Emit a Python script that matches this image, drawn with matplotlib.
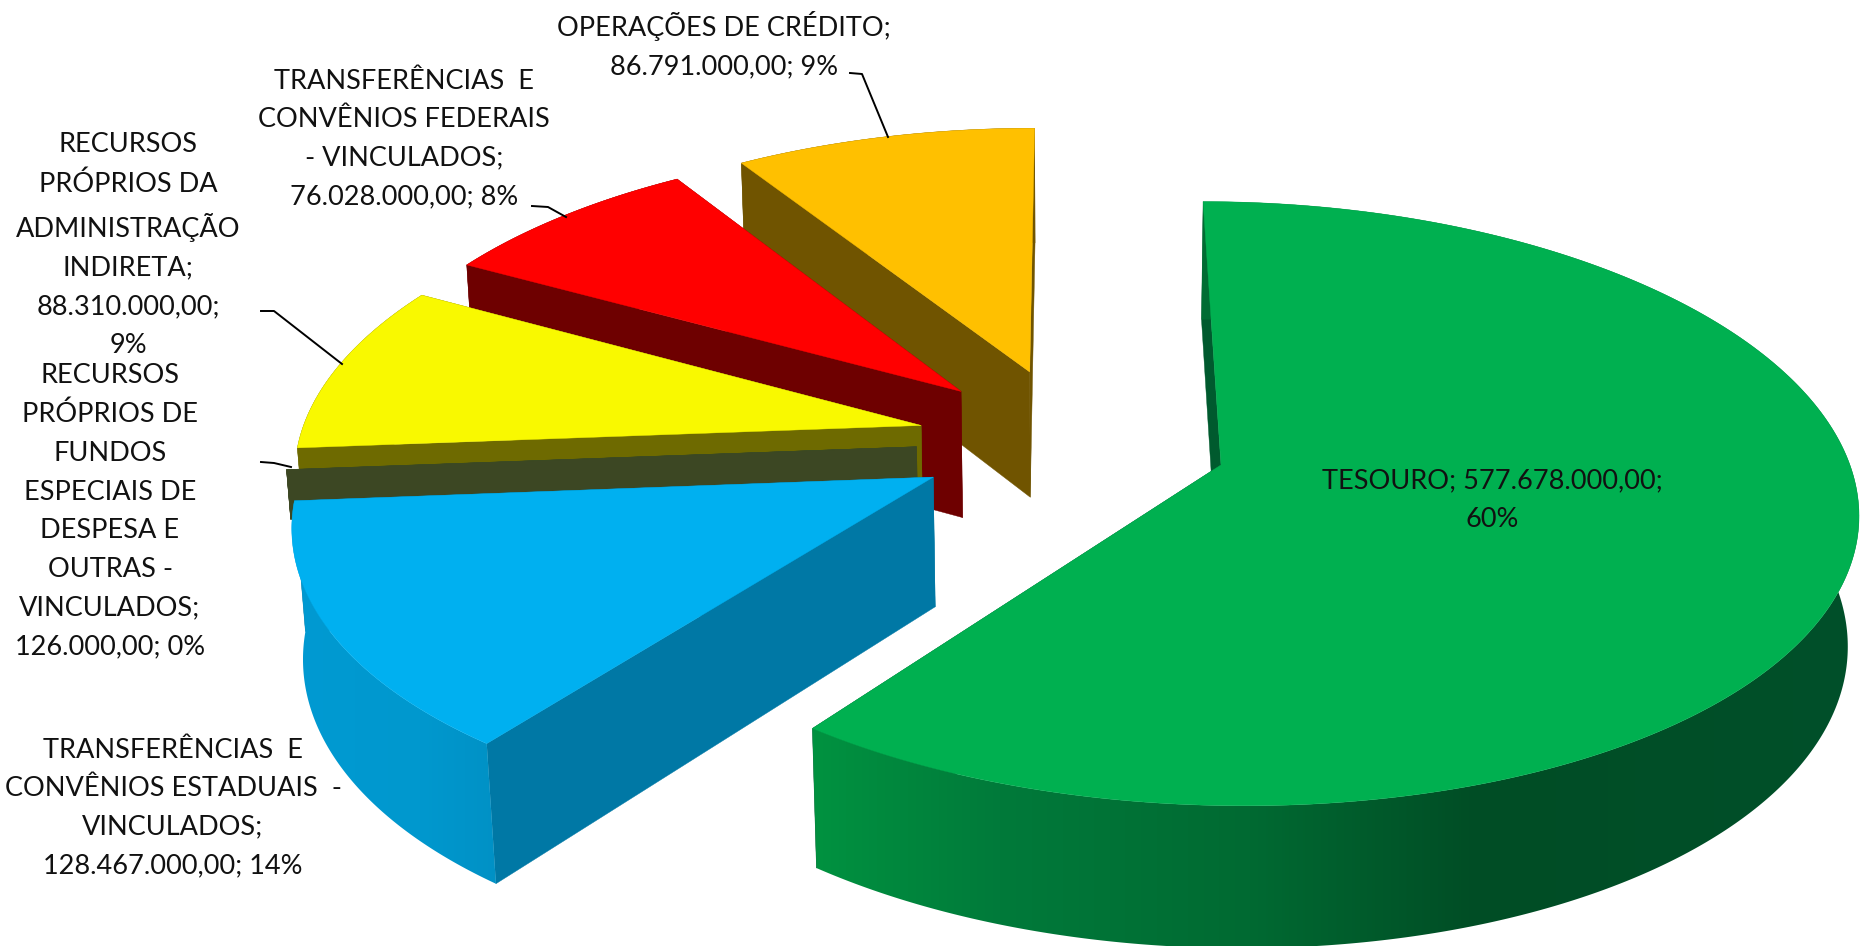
import numpy as np
import matplotlib
matplotlib.use("Agg")
import matplotlib.pyplot as plt
from matplotlib.colors import to_rgb
from matplotlib.patches import Polygon

# --- data -------------------------------------------------------------
names = ["TESOURO; 577.678.000,00;\n60%",
         "TRANSFERÊNCIAS  E\nCONVÊNIOS ESTADUAIS  -\nVINCULADOS;\n128.467.000,00; 14%",
         "RECURSOS\nPRÓPRIOS DE\nFUNDOS\nESPECIAIS DE\nDESPESA E\nOUTRAS -\nVINCULADOS;\n126.000,00; 0%",
         "RECURSOS\nPRÓPRIOS DA\nADMINISTRAÇÃO\nINDIRETA;\n88.310.000,00;\n9%",
         "TRANSFERÊNCIAS  E\nCONVÊNIOS FEDERAIS\n- VINCULADOS;\n76.028.000,00; 8%",
         "OPERAÇÕES DE CRÉDITO;\n86.791.000,00; 9%"]
values = [577678000, 128467000, 126000, 88310000, 76028000, 86791000]
top_colors = ["#00B050", "#00B0F0", "#3B4A22", "#F9F900", "#FF0000", "#FFC000"]
cut_colors = ["#005A2E", "#0078A5", "#3C4723", "#6E6A00", "#6E0000", "#705400"]
depths = [1, 1, 0.38, 1, 1, 1]
label_xy = [(1492, 500), (173, 808), (110, 511), (128, 245), (404, 139), (724, 45)]
leaders = [None, None,
           [(261, 462), (274, 463), (291, 467)],
           [(261, 311), (274, 311), (342, 364)],
           [(532, 206), (548, 207), (566, 217)],
           [(850, 73), (862, 74), (888, 137)]]

# side shading: screen x -> colour
green_x = [815, 1000, 1250, 1476, 1872]
green_c = ["#009240", "#007A3A", "#006A32", "#004D25", "#00502A"]
blue_x = [290, 420, 510]
blue_c = ["#009AD2", "#0098CE", "#0090C4"]
flat_side = {2: "#3C4723", 3: "#6E6A00", 4: "#6E0000", 5: "#705400"}

# --- projection -------------------------------------------------------
CX, CY = 1072, 441
A, B = 622, 291
K, KX, M = 0.127, 0.135, 0.014
D = 130
EXPLODE_X, EXPLODE_Y = 0.25, 0.255


def project(X, Y, h):
    s = 1.0 / (1 + K * Y + M * h)
    sx = 1.0 / (1 + KX * Y + M * h)
    return CX + A * X * sx, CY + (-B * Y + D * h) * s


fig = plt.figure(figsize=(18.72, 9.46), dpi=100)
ax = fig.add_axes([0, 0, 1, 1])

total = sum(values)
starts = np.cumsum([0] + values[:-1]) / total * 2 * np.pi
spans = np.array(values) / total * 2 * np.pi

for i in [5, 4, 3, 2, 1, 0]:
    t0, dt = starts[i], spans[i]
    bis = t0 + dt / 2
    ox, oy = EXPLODE_X * np.sin(bis), EXPLODE_Y * np.cos(bis)
    n = max(int(np.degrees(dt) * 2), 2)
    th = np.linspace(t0, t0 + dt, n + 1)
    rx = ox + np.sin(th)
    ry = oy + np.cos(th)
    ut, vt = project(rx, ry, 0)
    ub, vb = project(rx, ry, depths[i])
    at = project(ox, oy, 0)
    ab = project(ox, oy, depths[i])
    base = 100 - i * 10
    # cut faces
    for u1, v1, u2, v2 in [(ut[-1], vt[-1], ub[-1], vb[-1]), (ut[0], vt[0], ub[0], vb[0])]:
        ax.fill([at[0], u1, u2, ab[0]], [at[1], v1, v2, ab[1]], color=cut_colors[i], lw=0.3, zorder=base - 2)
    # rim
    rim = np.c_[np.r_[ut, ub[::-1]], np.r_[vt, vb[::-1]]]
    if i in flat_side:
        ax.fill(rim[:, 0], rim[:, 1], color=flat_side[i], lw=0.3, zorder=base - 1)
    else:
        xs, cs = (green_x, green_c) if i == 0 else (blue_x, blue_c)
        arr = np.array([to_rgb(c) for c in cs])
        grid = np.arange(0, 1872)
        grad = np.stack([np.interp(grid, xs, arr[:, j]) for j in range(3)], axis=-1)[None, :, :]
        im = ax.imshow(grad, extent=(0, 1872, 946, 0), aspect="auto", zorder=base - 1, interpolation="bilinear")
        patch = Polygon(rim, closed=True, transform=ax.transData, fc="none", ec="none")
        ax.add_patch(patch)
        im.set_clip_path(patch)
    # top
    ax.fill(np.r_[at[0], ut], np.r_[at[1], vt], color=top_colors[i], lw=0.3, zorder=base)

for name, (x, y), ld in zip(names, label_xy, leaders):
    ax.text(x, y, name, ha="center", va="center", fontsize=19.5, color="#111111",
            linespacing=1.68, zorder=200, family=["Lato", "DejaVu Sans"])
    if ld:
        ax.plot(*zip(*ld), color="black", lw=1.4, zorder=150, solid_joinstyle="round")

ax.set_xlim(0, 1872)
ax.set_ylim(946, 0)
ax.axis("off")
fig.savefig("out.png", dpi=100, facecolor="white")
